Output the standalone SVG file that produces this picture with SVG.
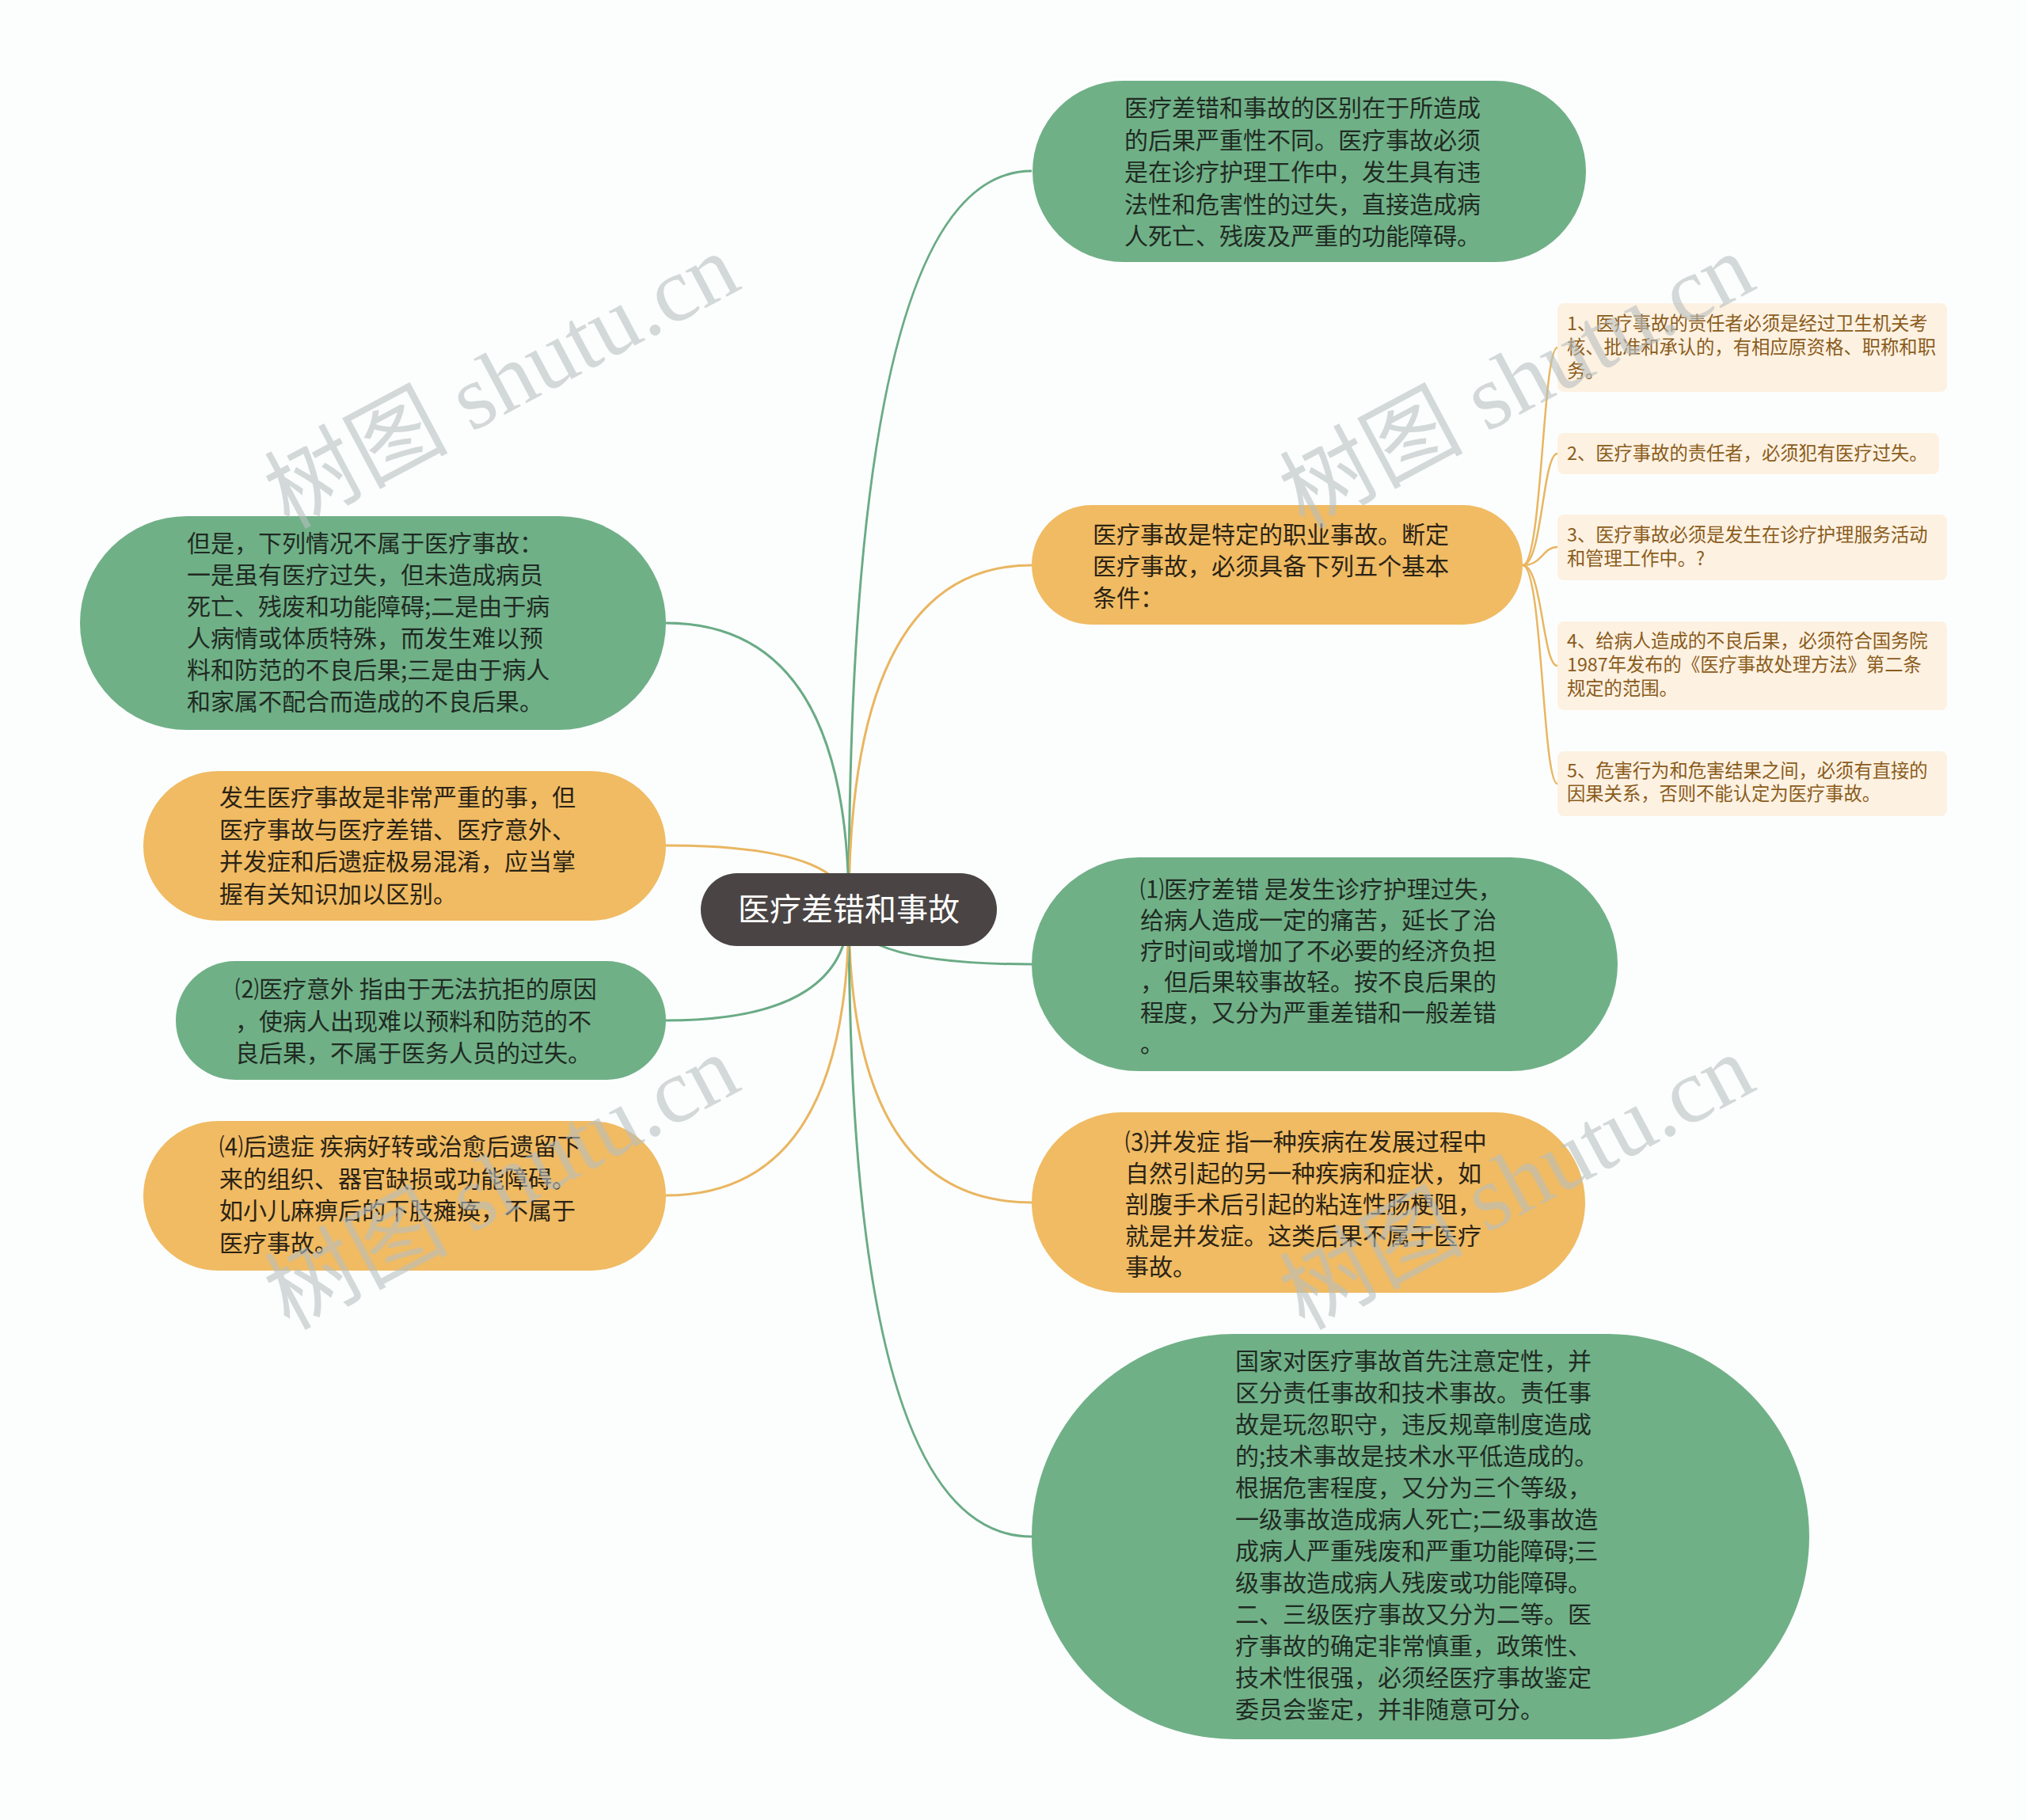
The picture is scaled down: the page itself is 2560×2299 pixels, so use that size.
<svg xmlns="http://www.w3.org/2000/svg" width="2560" height="2299" viewBox="0 0 2560 2299">
<defs>
<style>
.bg{fill:#fcfefe}
.g{fill:#70b087}
.o{fill:#f0bb63}
.sub{fill:#fdf1e1}
.root{fill:#4a4544}
.t{font-family:"Noto Sans CJK SC","Noto Sans",sans-serif;font-size:30px;dominant-baseline:central}
.tg{fill:#1f2b23}
.to{fill:#2b2315}
.ts{font-family:"Noto Sans CJK SC","Noto Sans",sans-serif;font-size:23.3px;fill:#8a5c1c;dominant-baseline:central}
.tr{font-family:"Noto Sans CJK SC","Noto Sans",sans-serif;font-size:40px;fill:#ffffff;dominant-baseline:central;text-anchor:middle}
.cg{fill:none;stroke:#6aab85;stroke-width:3}
.co{fill:none;stroke:#e9b661;stroke-width:3}
.cb{fill:none;stroke:#e9b661;stroke-width:2.5}
.wm{font-family:"Liberation Serif","Noto Sans CJK SC",serif;font-size:116px;fill:#b8bfbf;opacity:0.6;text-anchor:middle}
</style>
</defs>
<rect class="bg" x="0" y="0" width="2560" height="2299"/>
<g id="connectors">
<path class="cg" d="M1072,1149 Q1072,216 1303,216"/>
<path class="co" d="M1072,1149 Q1072,714 1303,714"/>
<path class="cg" d="M1072,1149 Q1072,1218 1303,1218"/>
<path class="co" d="M1072,1149 Q1072,1519 1303,1519"/>
<path class="cg" d="M1072,1149 Q1072,1941 1303,1941"/>
<path class="cg" d="M1072,1149 Q1072,787 841,787"/>
<path class="co" d="M1072,1149 Q1072,1068 841,1068"/>
<path class="cg" d="M1072,1149 Q1072,1289 841,1289"/>
<path class="co" d="M1072,1149 Q1072,1510 841,1510"/>
<path class="cb" d="M1923,714 C1948,714 1948,439 1967,439"/>
<path class="cb" d="M1923,714 C1948,714 1948,573 1967,573"/>
<path class="cb" d="M1923,714 C1948,714 1948,691 1967,691"/>
<path class="cb" d="M1923,714 C1948,714 1948,841 1967,841"/>
<path class="cb" d="M1923,714 C1948,714 1948,990 1967,990"/>
</g>
<g id="root">
<rect class="root" x="885" y="1103" width="374" height="92" rx="46"/>
<text class="tr" x="1072" y="1146">医疗差错和事故</text>
</g>
<g id="n1">
<rect class="g" x="1304" y="102" width="699" height="229" rx="114.5"/>
<text class="t tg" transform="translate(0,-5)"><tspan x="1420" y="139">医疗差错和事故的区别在于所造成</tspan><tspan x="1420" y="179.5">的后果严重性不同。医疗事故必须</tspan><tspan x="1420" y="220">是在诊疗护理工作中，发生具有违</tspan><tspan x="1420" y="260.5">法性和危害性的过失，直接造成病</tspan><tspan x="1420" y="301">人死亡、残废及严重的功能障碍。</tspan></text>
</g>
<g id="n2">
<rect class="o" x="1303" y="638" width="620" height="151" rx="75.5"/>
<text class="t to" transform="translate(0,-5)"><tspan x="1380" y="678">医疗事故是特定的职业事故。断定</tspan><tspan x="1380" y="718">医疗事故，必须具备下列五个基本</tspan><tspan x="1380" y="758">条件：</tspan></text>
</g>
<g id="s1">
<rect class="sub" x="1967" y="383" width="492" height="112" rx="8"/>
<text class="ts" transform="translate(0,-3)"><tspan x="1979" y="410">1、医疗事故的责任者必须是经过卫生机关考</tspan><tspan x="1979" y="440">核、批准和承认的，有相应原资格、职称和职</tspan><tspan x="1979" y="470">务。</tspan></text>
</g>
<g id="s2">
<rect class="sub" x="1967" y="547" width="482" height="52" rx="8"/>
<text class="ts" transform="translate(0,-3)"><tspan x="1979" y="574">2、医疗事故的责任者，必须犯有医疗过失。</tspan></text>
</g>
<g id="s3">
<rect class="sub" x="1967" y="650" width="492" height="83" rx="8"/>
<text class="ts" transform="translate(0,-3)"><tspan x="1979" y="677">3、医疗事故必须是发生在诊疗护理服务活动</tspan><tspan x="1979" y="707">和管理工作中。?</tspan></text>
</g>
<g id="s4">
<rect class="sub" x="1967" y="785" width="492" height="112" rx="8"/>
<text class="ts" transform="translate(0,-3)"><tspan x="1979" y="811">4、给病人造成的不良后果，必须符合国务院</tspan><tspan x="1979" y="841">1987年发布的《医疗事故处理方法》第二条</tspan><tspan x="1979" y="871">规定的范围。</tspan></text>
</g>
<g id="s5">
<rect class="sub" x="1967" y="949" width="492" height="82" rx="8"/>
<text class="ts" transform="translate(0,-3)"><tspan x="1979" y="975">5、危害行为和危害结果之间，必须有直接的</tspan><tspan x="1979" y="1004">因果关系，否则不能认定为医疗事故。</tspan></text>
</g>
<g id="n3">
<rect class="g" x="1303" y="1083" width="740" height="270" rx="135"/>
<text class="t tg" transform="translate(0,-5)"><tspan x="1440" y="1126">⑴医疗差错 是发生诊疗护理过失，</tspan><tspan x="1440" y="1165">给病人造成一定的痛苦，延长了治</tspan><tspan x="1440" y="1204">疗时间或增加了不必要的经济负担</tspan><tspan x="1440" y="1243">，但后果较事故轻。按不良后果的</tspan><tspan x="1440" y="1282">程度，又分为严重差错和一般差错</tspan><tspan x="1440" y="1321">。</tspan></text>
</g>
<g id="n4">
<rect class="o" x="1303" y="1405" width="699" height="228" rx="114"/>
<text class="t to" transform="translate(0,-5)"><tspan x="1421" y="1445">⑶并发症 指一种疾病在发展过程中</tspan><tspan x="1421" y="1484.5">自然引起的另一种疾病和症状，如</tspan><tspan x="1421" y="1524">剖腹手术后引起的粘连性肠梗阻，</tspan><tspan x="1421" y="1563.5">就是并发症。这类后果不属于医疗</tspan><tspan x="1421" y="1603">事故。</tspan></text>
</g>
<g id="n5">
<rect class="g" x="1303" y="1685" width="982" height="512" rx="256"/>
<text class="t tg" transform="translate(0,-4)"><tspan x="1560" y="1721">国家对医疗事故首先注意定性，并</tspan><tspan x="1560" y="1761">区分责任事故和技术事故。责任事</tspan><tspan x="1560" y="1801">故是玩忽职守，违反规章制度造成</tspan><tspan x="1560" y="1841">的;技术事故是技术水平低造成的。</tspan><tspan x="1560" y="1881">根据危害程度，又分为三个等级，</tspan><tspan x="1560" y="1921">一级事故造成病人死亡;二级事故造</tspan><tspan x="1560" y="1961">成病人严重残废和严重功能障碍;三</tspan><tspan x="1560" y="2001">级事故造成病人残废或功能障碍。</tspan><tspan x="1560" y="2041">二、三级医疗事故又分为二等。医</tspan><tspan x="1560" y="2081">疗事故的确定非常慎重，政策性、</tspan><tspan x="1560" y="2121">技术性很强，必须经医疗事故鉴定</tspan><tspan x="1560" y="2161">委员会鉴定，并非随意可分。</tspan></text>
</g>
<g id="n6">
<rect class="g" x="101" y="652" width="740" height="270" rx="135"/>
<text class="t tg" transform="translate(0,-4)"><tspan x="236" y="688">但是，下列情况不属于医疗事故：</tspan><tspan x="236" y="728">一是虽有医疗过失，但未造成病员</tspan><tspan x="236" y="768">死亡、残废和功能障碍;二是由于病</tspan><tspan x="236" y="808">人病情或体质特殊，而发生难以预</tspan><tspan x="236" y="848">料和防范的不良后果;三是由于病人</tspan><tspan x="236" y="888">和家属不配合而造成的不良后果。</tspan></text>
</g>
<g id="n7">
<rect class="o" x="181" y="974" width="660" height="189" rx="94.5"/>
<text class="t to" transform="translate(0,-4)"><tspan x="277" y="1009">发生医疗事故是非常严重的事，但</tspan><tspan x="277" y="1049.5">医疗事故与医疗差错、医疗意外、</tspan><tspan x="277" y="1090">并发症和后遗症极易混淆，应当掌</tspan><tspan x="277" y="1130.5">握有关知识加以区别。</tspan></text>
</g>
<g id="n8">
<rect class="g" x="222" y="1214" width="619" height="150" rx="75"/>
<text class="t tg" transform="translate(0,-4)"><tspan x="297" y="1251">⑵医疗意外 指由于无法抗拒的原因</tspan><tspan x="297" y="1291.5">，使病人出现难以预料和防范的不</tspan><tspan x="297" y="1332">良后果，不属于医务人员的过失。</tspan></text>
</g>
<g id="n9">
<rect class="o" x="181" y="1416" width="660" height="189" rx="94.5"/>
<text class="t to" transform="translate(0,-4)"><tspan x="277" y="1450">⑷后遗症 疾病好转或治愈后遗留下</tspan><tspan x="277" y="1490.5">来的组织、器官缺损或功能障碍。</tspan><tspan x="277" y="1531">如小儿麻痹后的下肢瘫痪，不属于</tspan><tspan x="277" y="1571.5">医疗事故。</tspan></text>
</g>
<g id="watermarks">
<text class="wm" transform="translate(652,516) rotate(-28)">树图 shutu.cn</text>
<text class="wm" transform="translate(1934,516) rotate(-28)">树图 shutu.cn</text>
<text class="wm" transform="translate(652,1528) rotate(-28)">树图 shutu.cn</text>
<text class="wm" transform="translate(1934,1528) rotate(-28)">树图 shutu.cn</text>
</g>
</svg>
